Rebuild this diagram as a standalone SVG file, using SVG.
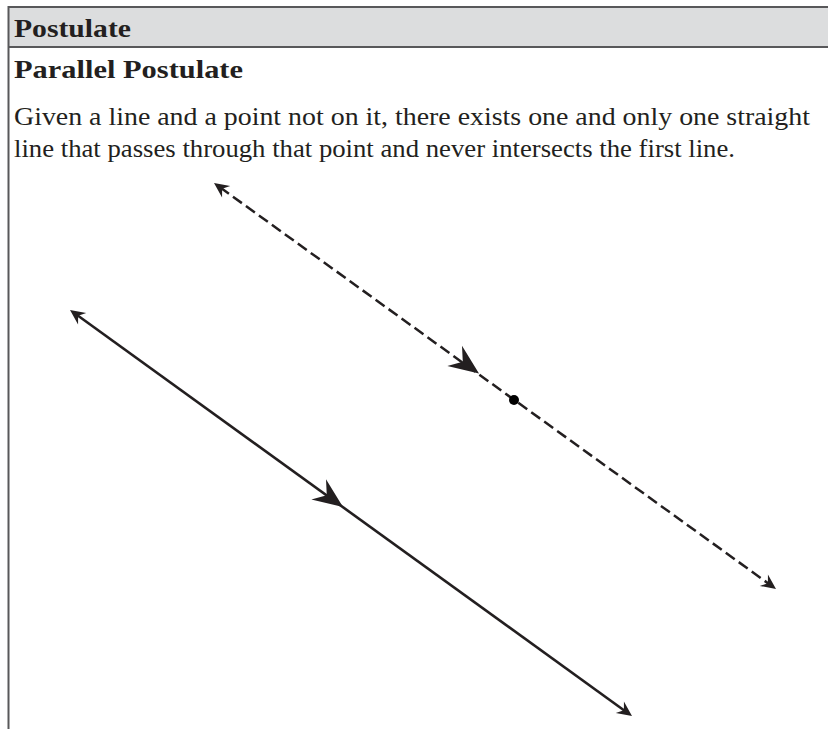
<svg xmlns="http://www.w3.org/2000/svg" xmlns:xlink="http://www.w3.org/1999/xlink" width="828" height="729" viewBox="0 0 828 729">
<style>
.t{font-family:"Liberation Serif","Times New Roman",serif;fill:#231f20;}
.b{font-weight:bold;font-size:25px;}
.n{font-size:25.5px;}
.ln{stroke:#231f20;fill:none;}
.ah{fill:#231f20;stroke:none;}
</style>
<defs>
<path id="sm" d="M0,0 L-15,-7 L-10,0 L-15,7 Z"/>
<path id="lg" d="M0,0 L-30,-12.5 L-20,0 L-30,12.5 Z"/>
</defs>
<g id="frame">
<rect x="8" y="7" width="820" height="40" fill="#dcddde"/>
<line x1="8" y1="7" x2="828" y2="7" stroke="#58585a" stroke-width="2"/>
<line x1="8" y1="47" x2="828" y2="47" stroke="#58585a" stroke-width="2"/>
<line x1="8.5" y1="6" x2="8.5" y2="729" stroke="#58585a" stroke-width="2"/>
</g>
<g id="header"><text class="t b" x="14" y="37" textLength="117" lengthAdjust="spacingAndGlyphs">Postulate</text></g>
<g id="title"><text class="t b" x="14" y="78" textLength="229" lengthAdjust="spacingAndGlyphs">Parallel Postulate</text></g>
<g id="body">
<text class="t n" x="14" y="125" textLength="796" lengthAdjust="spacingAndGlyphs">Given a line and a point not on it, there exists one and only one straight</text>
<text class="t n" x="14" y="157" textLength="721" lengthAdjust="spacingAndGlyphs">line that passes through that point and never intersects the first line.</text>
</g>
<g id="connectors">
<line class="ln" x1="220" y1="187.3" x2="770" y2="584.7" stroke-width="2.5" stroke-dasharray="11,5"/>
<line class="ln" x1="76" y1="314.3" x2="626" y2="711.7" stroke-width="2.6"/>
<g class="ah">
<use xlink:href="#sm" transform="translate(214,183) rotate(215.84)"/>
<use xlink:href="#sm" transform="translate(776,589) rotate(35.84)"/>
<use xlink:href="#lg" transform="translate(479,373.5) rotate(35.84)"/>
<use xlink:href="#sm" transform="translate(70,310) rotate(215.84)"/>
<use xlink:href="#sm" transform="translate(632,716) rotate(35.84)"/>
<use xlink:href="#lg" transform="translate(343,507) rotate(35.84)"/>
</g>
</g>
<g id="point"><circle cx="514" cy="400" r="5" fill="#000"/></g>
</svg>
